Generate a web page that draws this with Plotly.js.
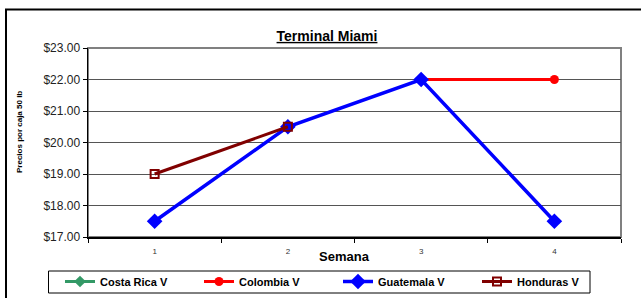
<!DOCTYPE html>
<html><head><meta charset="utf-8">
<script src="https://cdn.plot.ly/plotly-3.0.1.min.js"></script>
<style>html,body{margin:0;padding:0;background:#fff}#c{width:641px;height:298px}</style>
</head><body><div id="c"></div>
<script>
const weeks = ['1','2','3','4'];
const costaRica = [null, null, null, null];
const colombia = [null, null, 22.0, 22.0];
const guatemala = [17.5, 20.5, 22.0, 17.5];
const honduras = [19.0, 20.5, null, null];

const traces = [
  {x: weeks, y: costaRica, name: 'Costa Rica V', mode: 'lines+markers', line: {color: '#339966', width: 3}, marker: {symbol: 'diamond', size: 9, color: '#339966'}},
  {x: weeks, y: colombia, name: 'Colombia V', mode: 'lines+markers', line: {color: '#ff0000', width: 3}, marker: {symbol: 'circle', size: 9, color: '#ff0000'}},
  {x: weeks, y: guatemala, name: 'Guatemala V', mode: 'lines+markers', line: {color: '#0000ff', width: 3.5}, marker: {symbol: 'diamond', size: 12, color: '#0000ff'}},
  {x: weeks, y: honduras, name: 'Honduras V', mode: 'lines+markers', line: {color: '#800000', width: 3}, marker: {symbol: 'square-open', size: 8, color: '#800000', line: {width: 2}}}
];

const L = 88, R = 20, T = 48, B = 61, W = 641, H = 298;
const pw = W - L - R, ph = H - T - B;
const px = v => (v - L) / pw;
const py = v => (H - B - v) / ph;
const FF = 'Arial, Liberation Sans, sans-serif';

const layout = {
  width: W, height: H,
  margin: {l: L, r: R, t: T, b: B, autoexpand: false},
  paper_bgcolor: '#fff', plot_bgcolor: '#fff',
  font: {family: FF, color: '#000'},
  title: {text: '<b><u>Terminal Miami</u></b>', font: {size: 14}, x: 327/W, xanchor: 'center', xref: 'container', yref: 'container', y: 1 - 36/H, yanchor: 'middle'},
  xaxis: {
    type: 'category', range: [-0.5, 3.5], tickson: 'boundaries', ticks: 'outside', ticklen: 4, tickcolor: '#000',
    showgrid: false, showline: true, linecolor: '#000', linewidth: 1.5, zeroline: false,
    tickfont: {size: 8, color: '#333'}, ticklabelstandoff: 6
  },
  yaxis: {
    range: [17, 23], dtick: 1, tickformat: '$.2f', ticks: 'outside', ticklen: 4, tickcolor: '#000',
    showgrid: true, gridcolor: '#555', gridwidth: 1, showline: true, linecolor: '#000', linewidth: 1.5, zeroline: false,
    tickfont: {size: 12, color: '#222'}
  },
  annotations: [
    {text: '<b>Semana</b>', xref: 'paper', yref: 'paper', x: px(344), y: py(256), xanchor: 'center', yanchor: 'middle', showarrow: false, font: {size: 13}},
    {text: '<b>Precios por caja 50 lb</b>', xref: 'paper', yref: 'paper', x: px(19), y: py(132), xanchor: 'center', yanchor: 'middle', showarrow: false, textangle: -90, font: {size: 8}}
  ],
  showlegend: true,
  legend: {
    orientation: 'h', x: px(60), y: py(267), xanchor: 'left', yanchor: 'top',
    borderwidth: 0, bgcolor: 'rgba(0,0,0,0)',
    font: {size: 11, color: '#000', family: FF, weight: 'bold'},
    entrywidth: 94, entrywidthmode: 'pixels', itemwidth: 30, tracegroupgap: 0
  },
  shapes: [
    {type: 'rect', xref: 'paper', yref: 'paper', x0: 0, x1: 1, y0: 0, y1: 1, line: {color: '#808080', width: 2}, layer: 'below'},
    {type: 'rect', xref: 'paper', yref: 'paper', x0: px(6), x1: px(700), y0: py(350), y1: py(9.5), line: {color: '#000', width: 2}, layer: 'below'},
    {type: 'rect', xref: 'paper', yref: 'paper', x0: px(48.5), x1: px(590), y0: py(293), y1: py(271), line: {color: '#000', width: 1}, fillcolor: '#fff', layer: 'below'}
  ]
};
Plotly.newPlot('c', traces, layout, {displayModeBar: false, staticPlot: true});
</script></body></html>
